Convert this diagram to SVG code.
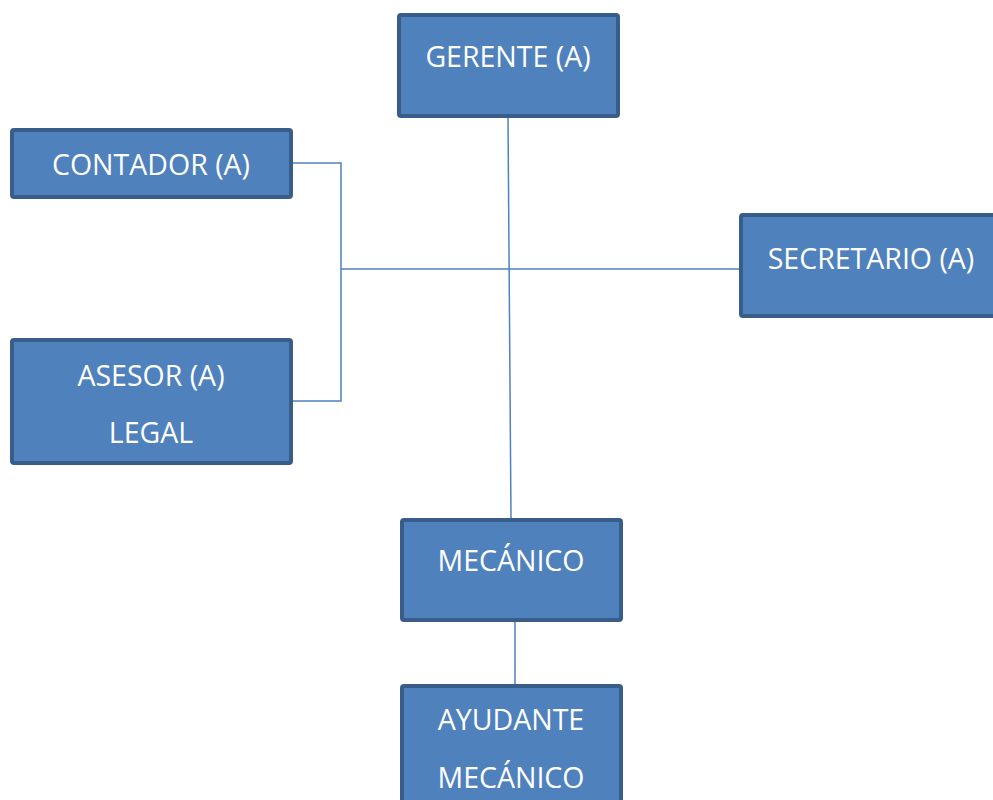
<svg xmlns="http://www.w3.org/2000/svg" width="993" height="800" viewBox="0 0 993 800">
<style>
.box{fill:#4f81bd;stroke:#385d8a;stroke-width:4;}
.lbl{font-family:"Open Sans","Liberation Sans",sans-serif;font-size:28.5px;fill:#ffffff;text-anchor:middle;}
.con{fill:none;stroke:#4f81bd;stroke-width:1.5;}
</style>
<rect width="993" height="800" fill="#ffffff"/>
<g id="connectors">
<line class="con" x1="508" y1="118" x2="511" y2="518"/>
<line class="con" x1="341" y1="269" x2="739" y2="269"/>
<polyline class="con" points="293,163 341,163 341,401 293,401"/>
<line class="con" x1="515" y1="622" x2="515" y2="684"/>
</g>
<g id="gerente">
<rect class="box" x="399" y="15" width="219" height="101" rx="2"/>
<text class="lbl" x="508" y="67">GERENTE (A)</text>
</g>
<g id="contador">
<rect class="box" x="12" y="130" width="279" height="67" rx="2"/>
<text class="lbl" x="151" y="175">CONTADOR (A)</text>
</g>
<g id="asesor">
<rect class="box" x="12" y="340" width="279" height="123" rx="2"/>
<text class="lbl" x="151" y="386">ASESOR (A)</text>
<text class="lbl" x="151" y="443">LEGAL</text>
</g>
<g id="secretario">
<rect class="box" x="741" y="215" width="260" height="101" rx="2"/>
<text class="lbl" x="871" y="269">SECRETARIO (A)</text>
</g>
<g id="mecanico">
<rect class="box" x="402" y="520" width="219" height="100" rx="2"/>
<text class="lbl" x="511" y="571">MECÁNICO</text>
</g>
<g id="ayudante">
<rect class="box" x="402" y="686" width="219" height="130" rx="2"/>
<text class="lbl" x="511" y="730">AYUDANTE</text>
<text class="lbl" x="511" y="788">MECÁNICO</text>
</g>
</svg>
